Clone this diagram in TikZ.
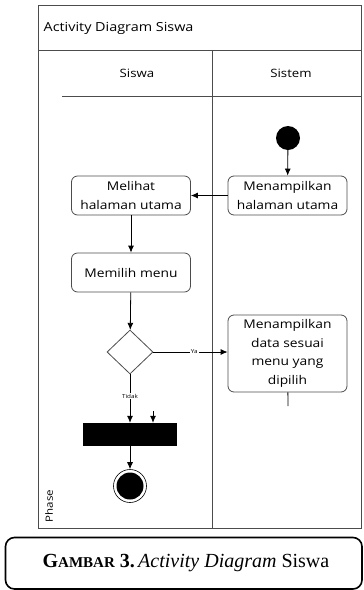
\documentclass[tikz,border=0pt]{standalone}
\usepackage{fontspec}
\setmainfont{Open Sans}[FakeStretch=1.15]
\newfontfamily\capfont{Liberation Serif}
\usetikzlibrary{shapes.geometric,arrows.meta}
\definecolor{edge}{gray}{0.3}
\tikzset{
  act/.style={draw=edge, line width=0.8pt, rounded corners=6pt, minimum width=119pt,
    minimum height=39pt, align=center, inner sep=1pt, font=\fontsize{12}{18.5}\selectfont},
  arr/.style={draw=black, line width=0.8pt, -{Latex[length=7pt,width=6pt]}},
  plain/.style={draw=black, line width=0.8pt},
  frame/.style={draw=edge, line width=0.9pt},
  lbl/.style={font=\fontsize{5.5}{6}\selectfont, inner sep=1pt, fill=white},
  hdr/.style={font=\fontsize{11.5}{14}\selectfont, inner sep=0pt}
}
\begin{document}
\begin{tikzpicture}[x=1pt,y=-1pt]
\useasboundingbox (0,0) rectangle (364,590);
% swimlane frame
\draw[frame] (38,5) rectangle (361,528);
\draw[frame] (38,50) -- (361,50);
\draw[frame] (62,96) -- (361,96);
\draw[frame] (212,50) -- (212,528);
\node[hdr, anchor=west, font=\fontsize{12.5}{14}\selectfont] (title) at (43.5,28) {Activity Diagram Siswa};
\node[hdr] (h1) at (137,73) {Siswa};
\node[hdr] (h2) at (291,73) {Sistem};
\node[hdr, rotate=90, font=\fontsize{10}{12}\selectfont] (phase) at (49,506) {Phase};
% nodes
\node[circle, fill=black, minimum size=24pt, inner sep=0pt] (init) at (288,138) {};
\node[act] (mhu) at (287.5,195.5) {Menampilkan\\halaman utama};
\node[act] (lhu) at (131,195.5) {Melihat\\halaman utama};
\node[act] (mm) at (131,272.5) {Memilih menu};
\node[diamond, draw=edge, line width=0.8pt, minimum width=46pt, minimum height=44pt, inner sep=0pt] (dec) at (130,352) {};
\node[act, minimum height=77pt] (data) at (287.5,353.5) {Menampilkan\\data sesuai\\menu yang\\dipilih};
\node[fill=black, minimum width=94pt, minimum height=23pt, inner sep=0pt] (bar) at (130,434.5) {};
\node[circle, draw=black, line width=0.6pt, minimum size=33pt, inner sep=0pt] (fin) at (130,486) {};
\node[circle, fill=black, minimum size=27pt, inner sep=0pt] (fincore) at (fin) {};
\coordinate (dend) at (288,406);
\coordinate (j2) at (153,411);
% connectors
\draw[arr] (init) -- (mhu);
\draw[arr] (mhu) -- (lhu);
\draw[arr] (lhu) -- (mm);
\draw[arr] (mm) -- (dec);
\draw[arr] (dec.east) -- node[lbl, pos=0.55] (ya) {Ya} (dec.east -| data.west);
\draw[plain] (data) -- (dend);
\draw[arr] (dec) -- node[lbl, pos=0.45] (tidak) {Tidak} (dec |- bar.north);
\draw[arr] (j2) -- (j2 |- bar.north);
\draw[arr] (bar) -- (fin);
% caption
\draw[line width=1.6pt, rounded corners=9pt] (5.5,537.5) rectangle (362,589);
\node[font=\capfont\fontsize{20}{22}\selectfont, inner sep=0pt] (cap) at (186,563)
  {\textbf{G{\fontsize{15}{16}\selectfont AMBAR} 3.}\,\textit{Activity Diagram} Siswa};
\end{tikzpicture}
\end{document}
